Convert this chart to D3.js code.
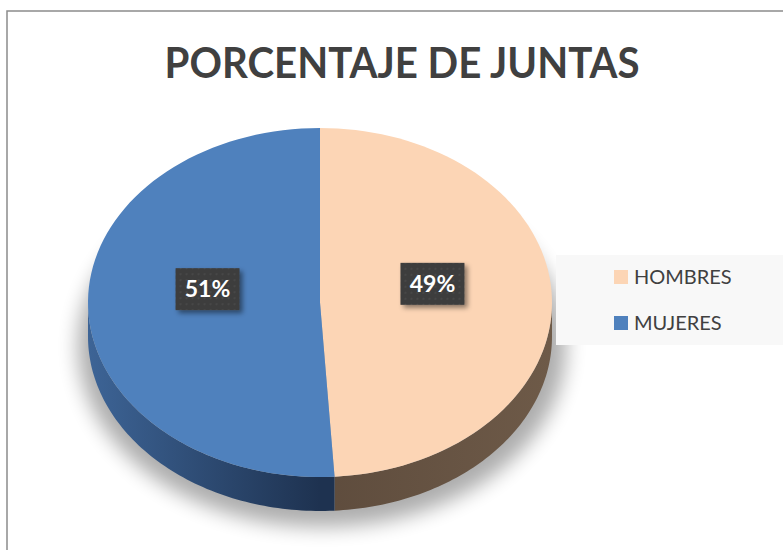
<!DOCTYPE html>
<html>
<head>
<meta charset="utf-8">
<script src="https://cdn.jsdelivr.net/npm/d3@7"></script>
<style>
  body { margin: 0; background: #fff; }
  svg { display: block; }
</style>
</head>
<body>
<div id="chart"></div>
<script>
const svgWidth = 783;
const svgHeight = 550;

// data
const categories = ["HOMBRES", "MUJERES"];
const values = [49, 51];
const labels = ["49%", "51%"];
const colors = ["#FCD5B5", "#4F81BD"];
const sideColors = [["#5E4C3D", "#6E5A48"], ["#1E3250", "#3D6496"]];

// pie geometry
const cx = 320, cy = 302.5;
const rx = 232, ry = 174.5;
const depth = 34;

const svg = d3.select("#chart")
  .append("svg")
  .attr("width", svgWidth)
  .attr("height", svgHeight);

const defs = svg.append("defs");

const blur = defs.append("filter")
  .attr("id", "blur")
  .attr("x", "-20%").attr("y", "-20%")
  .attr("width", "140%").attr("height", "140%");
blur.append("feGaussianBlur").attr("stdDeviation", 10);

const boxShadow = defs.append("filter")
  .attr("id", "boxShadow")
  .attr("x", "-30%").attr("y", "-30%")
  .attr("width", "170%").attr("height", "170%");
boxShadow.append("feDropShadow")
  .attr("dx", 3).attr("dy", 3)
  .attr("stdDeviation", 2.5)
  .attr("flood-color", "#000")
  .attr("flood-opacity", 0.45);

// dotted texture for the label boxes
const pat = defs.append("pattern")
  .attr("id", "dots")
  .attr("width", 6).attr("height", 6)
  .attr("patternUnits", "userSpaceOnUse");
pat.append("rect").attr("width", 6).attr("height", 6).attr("fill", "#3d3d3d");
pat.append("circle").attr("cx", 3).attr("cy", 3).attr("r", 1).attr("fill", "#4a4a4a");

// side gradients
sideColors.forEach((c, i) => {
  const g = defs.append("linearGradient")
    .attr("id", "side" + i)
    .attr("gradientUnits", "userSpaceOnUse")
    .attr("x1", i === 0 ? cx : cx - rx).attr("x2", i === 0 ? cx + rx : cx)
    .attr("y1", 0).attr("y2", 0);
  if (i === 0) {
    g.append("stop").attr("offset", "0%").attr("stop-color", c[0]);
    g.append("stop").attr("offset", "100%").attr("stop-color", c[1]);
  } else {
    g.append("stop").attr("offset", "0%").attr("stop-color", c[1]);
    g.append("stop").attr("offset", "100%").attr("stop-color", c[0]);
  }
});

// frame
svg.append("rect")
  .attr("x", 7).attr("y", 11)
  .attr("width", svgWidth + 10).attr("height", svgHeight + 10)
  .attr("fill", "#fff")
  .attr("stroke", "#8c8c8c")
  .attr("stroke-width", 1.5);

// title
svg.append("text")
  .attr("x", 402)
  .attr("y", 78)
  .attr("text-anchor", "middle")
  .attr("textLength", 475)
  .attr("lengthAdjust", "spacingAndGlyphs")
  .style("font-family", "Lato, 'Open Sans', sans-serif")
  .style("font-weight", "bold")
  .style("font-size", "42px")
  .style("fill", "#404040")
  .text("PORCENTAJE DE JUNTAS");

// shadow under the pie
svg.append("ellipse")
  .attr("cx", cx + 2).attr("cy", cy + 44)
  .attr("rx", rx + 12).attr("ry", ry + 6)
  .attr("fill", "#000")
  .attr("opacity", 0.32)
  .attr("filter", "url(#blur)");

const pie = d3.pie().sort(null).startAngle(0).endAngle(2 * Math.PI);
const arcs = pie(values);

const px = a => cx + rx * Math.sin(a);
const py = a => cy - ry * Math.cos(a);

function topPath(a0, a1) {
  const n = 80;
  const pts = d3.range(n + 1).map(i => {
    const a = a0 + (a1 - a0) * i / n;
    return [px(a), py(a)];
  });
  return "M" + cx + "," + cy + "L" + pts.map(p => p.join(",")).join("L") + "Z";
}

function sidePath(a0, a1) {
  const s = Math.max(a0, Math.PI / 2);
  const e = Math.min(a1, 3 * Math.PI / 2);
  if (e <= s) return null;
  const n = 80;
  const top = d3.range(n + 1).map(i => {
    const a = s + (e - s) * i / n;
    return [px(a), py(a)];
  });
  const bot = top.slice().reverse().map(p => [p[0], p[1] + depth]);
  return "M" + top.concat(bot).map(p => p.join(",")).join("L") + "Z";
}

// sides
svg.append("g").selectAll("path")
  .data(arcs)
  .enter()
  .append("path")
  .attr("d", d => sidePath(d.startAngle, d.endAngle))
  .attr("fill", (d, i) => "url(#side" + i + ")");

// top faces
svg.append("g").selectAll("path")
  .data(arcs)
  .enter()
  .append("path")
  .attr("d", d => topPath(d.startAngle, d.endAngle))
  .attr("fill", (d, i) => colors[i]);

// data labels
const k = 0.485;
const labelG = svg.append("g").selectAll("g")
  .data(arcs)
  .enter()
  .append("g")
  .attr("transform", d => {
    const m = (d.startAngle + d.endAngle) / 2;
    return `translate(${cx + rx * k * Math.sin(m)}, ${cy - ry * k * Math.cos(m) - 16})`;
  });

labelG.append("rect")
  .attr("x", -32).attr("y", -21)
  .attr("width", 64).attr("height", 42)
  .attr("fill", "url(#dots)")
  .attr("filter", "url(#boxShadow)");

labelG.append("text")
  .attr("text-anchor", "middle")
  .attr("dy", "0.35em")
  .style("font-family", "Lato, 'Open Sans', sans-serif")
  .style("font-weight", "bold")
  .style("font-size", "23px")
  .style("fill", "#fff")
  .text((d, i) => labels[i]);

// legend
const legend = svg.append("g");
legend.append("rect")
  .attr("x", 556).attr("y", 255)
  .attr("width", svgWidth - 556).attr("height", 90)
  .attr("fill", "#f8f8f8");

const items = legend.selectAll("g.item")
  .data(categories)
  .enter()
  .append("g")
  .attr("class", "item")
  .attr("transform", (d, i) => `translate(614, ${270 + i * 46})`);

items.append("rect")
  .attr("width", 14).attr("height", 14)
  .attr("fill", (d, i) => colors[i]);

items.append("text")
  .attr("x", 20).attr("y", 7)
  .attr("dy", "0.36em")
  .style("font-family", "Lato, 'Open Sans', sans-serif")
  .style("font-size", "20px")
  .style("fill", "#404040")
  .text(d => d);
</script>
</body>
</html>
